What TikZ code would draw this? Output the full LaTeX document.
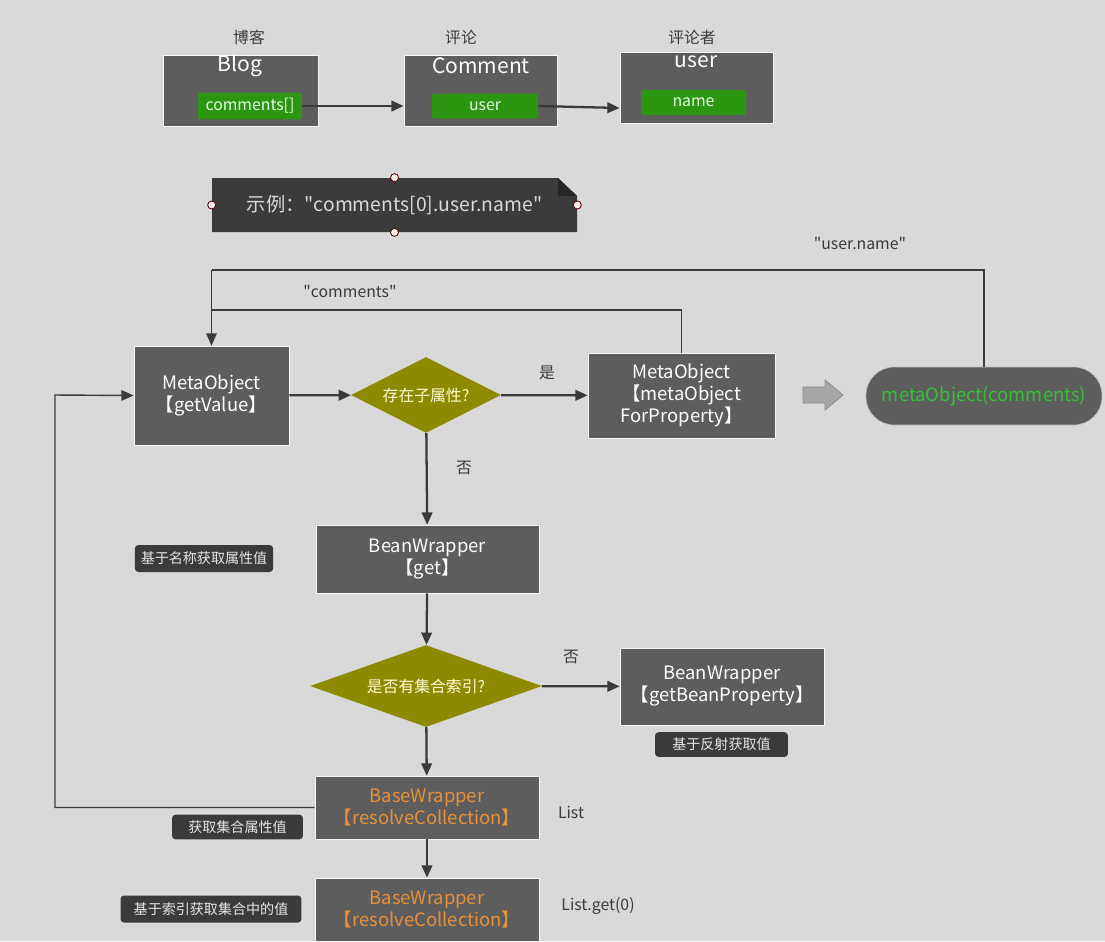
\documentclass[tikz,border=0pt]{standalone}
\usepackage{fontspec}
\setmainfont{Noto Sans CJK SC}
\usepackage{tikz}
\usetikzlibrary{positioning,calc,arrows.meta,shapes.geometric}
\definecolor{canvas}{HTML}{D9D9D9}
\definecolor{boxgray}{HTML}{5D5D5D}
\definecolor{notedark}{HTML}{3B3B3B}
\definecolor{fieldgreen}{HTML}{2C9612}
\definecolor{olive}{HTML}{8E8A00}
\definecolor{wireg}{HTML}{3A3A3A}
\definecolor{orangetext}{HTML}{E8913A}
\definecolor{pillgreen}{HTML}{34C234}
\tikzstyle{line} = [draw,line width=1.3pt,color=wireg,-{Triangle[length=7pt,width=6pt]}]
\tikzstyle{wire} = [draw,line width=0.8pt,color=wireg]
\tikzstyle{box} = [rectangle,fill=boxgray,draw=white!80!canvas,line width=0.4pt,text=white,align=center,font=\fontsize{10.5}{12.5}\selectfont]
\tikzstyle{field} = [rectangle,rounded corners=1pt,fill=fieldgreen,text=white!90!green,font=\fontsize{9}{11}\selectfont,minimum height=0.5cm]
\tikzstyle{choice} = [diamond,fill=olive,text=white!85!yellow,inner sep=0pt,font=\fontsize{9}{11}\selectfont]
\tikzstyle{tag} = [rectangle,rounded corners=2pt,fill=notedark,text=white!90!black,font=\fontsize{8}{10}\selectfont]
\tikzstyle{caption} = [text=wireg,font=\fontsize{9}{11}\selectfont]
\tikzstyle{handle} = [circle,fill=red!4,draw=red!40!black,line width=0.5pt,minimum size=0.16cm,inner sep=0pt]
\newcommand{\qt}[1]{\textquotedbl#1\textquotedbl}

\begin{document}
\begin{tikzpicture}[x=0.02cm,y=-0.02cm]
  \fill[canvas] (0,0) rectangle (1105,941);
  \useasboundingbox (0,0) rectangle (1105,941);

  % data model
  \node[box,minimum width=3.1cm,minimum height=1.42cm] (blog) at (240.5,90.5) {};
  \node[box,minimum width=3.06cm,minimum height=1.42cm] (comment) at (480.5,90.5) {};
  \node[box,minimum width=3.06cm,minimum height=1.42cm] (user) at (696.5,87.5) {};
  \node[text=white,font=\fontsize{12}{14}\selectfont] (blogname) at (240,66) {Blog};
  \node[text=white,font=\fontsize{12}{14}\selectfont] (commentname) at (481,66) {Comment};
  \node[text=white,font=\fontsize{12}{14}\selectfont] (username) at (696,62) {user};
  \node[field,minimum width=2.08cm] (blogfield) at (250,106) {comments[]};
  \node[field,minimum width=2.12cm] (commentfield) at (485,106) {user};
  \node[field,minimum width=2.1cm] (userfield) at (693.5,102.5) {name};
  \node[caption] (blogcap) at (249,37) {博客};
  \node[caption] (commentcap) at (461,37) {评论};
  \node[caption] (usercap) at (692,37) {评论者};
  \path [line] (blogfield.east) -- (blogfield.east -| comment.west);
  \path [line] (commentfield.east) -- ($(commentfield.east -| user.west)+(0,2)$);

  % example note
  \fill[notedark] (212,178) -- (558,178) -- (577,196) -- (577,232) -- (212,232) -- cycle;
  \fill[black!85] (558,178) -- (558,196) -- (577,196) -- cycle;
  \node[text=white!85!black,font=\fontsize{11}{13}\selectfont,minimum width=7.3cm,minimum height=1.08cm] (example) at (394.5,205) {示例：\qt{comments[0].user.name}};
  \node[handle] (htop) at (example.north) {};
  \node[handle] (hbottom) at (example.south) {};
  \node[handle] (hleft) at (example.west) {};
  \node[handle] (hright) at (example.east) {};

  % flow
  \node[box,minimum width=3.1cm,minimum height=1.98cm] (getvalue) at (211.5,395.5) {MetaObject\\【getValue】};
  \node[choice,aspect=2.6,minimum width=3cm,minimum height=1.52cm] (hassub) at (426,395) {存在子属性?};
  \node[box,minimum width=3.74cm,minimum height=1.7cm] (forprop) at (681.5,395.5) {MetaObject\\【metaObject\\ForProperty】};
  \node[box,rounded corners=0.56cm,draw=white!60!boxgray,minimum width=4.72cm,minimum height=1.16cm,text=pillgreen,font=\fontsize{10.5}{13}\selectfont] (result) at (984,396) {metaObject(comments)};
  \filldraw[fill=black!35,draw=black!45,line width=0.5pt] (803,387) -- (825,387) -- (825,380) -- (843,395) -- (825,410) -- (825,403) -- (803,403) -- cycle;
  \node[box,minimum width=4.46cm,minimum height=1.36cm] (beanget) at (427.5,559) {BeanWrapper\\【get】};
  \node[choice,aspect=3,minimum width=4.64cm,minimum height=1.64cm] (hasindex) at (426,686) {是否有集合索引?};
  \node[box,minimum width=4.08cm,minimum height=1.54cm] (beanprop) at (722,686.5) {BeanWrapper\\【getBeanProperty】};
  \node[box,minimum width=4.48cm,minimum height=1.26cm,text=orangetext] (resolve) at (427,807.5) {BaseWrapper\\【resolveCollection】};
  \node[box,minimum width=4.48cm,minimum height=1.26cm,text=orangetext] (resolveget) at (427,909.5) {BaseWrapper\\【resolveCollection】};

  \node[tag,minimum width=2.56cm,minimum height=0.54cm] (byname) at (204,558.5) {基于名称获取属性值};
  \node[tag,minimum width=2.66cm,minimum height=0.46cm] (byreflect) at (721.5,744.5) {基于反射获取值};
  \node[tag,minimum width=2.62cm,minimum height=0.46cm] (bycollection) at (237.5,827) {获取集合属性值};
  \node[tag,minimum width=3.62cm,minimum height=0.54cm] (byindex) at (211,909) {基于索引获取集合中的值};

  \node[caption] (namelabel) at (860,243) {\qt{user.name}};
  \node[caption] (commentslabel) at (350,291) {\qt{comments}};
  \node[caption] (yes) at (547,373) {是};
  \node[caption] (no1) at (464,468) {否};
  \node[caption] (no2) at (571,657) {否};
  \node[caption] (listlabel) at (571,812) {List};
  \node[caption] (getlabel) at (598,906) {List.get(0)};

  \coordinate (upper) at (211.5,270);
  \coordinate (lower) at (211.5,310);
  \coordinate (backleft) at (55,395);

  \path [line] (getvalue) -- (hassub);
  \path [line] (hassub) -- (forprop);
  \path [line] (hassub) -- (beanget);
  \path [line] (beanget) -- (hasindex);
  \path [line] (hasindex) -- (beanprop);
  \path [line] (hasindex) -- (resolve);
  \path [line] (resolve) -- (resolveget);
  \path [wire] (result.north) |- (upper);
  \path [wire,-{Triangle[length=7pt,width=6pt]}] (upper) -- (getvalue.north);
  \path [wire] (forprop.north) |- (lower);
  \path [wire,-{Triangle[length=7pt,width=6pt]}] (resolve.west) -| (backleft) -- (getvalue.west);
\end{tikzpicture}
\end{document}
